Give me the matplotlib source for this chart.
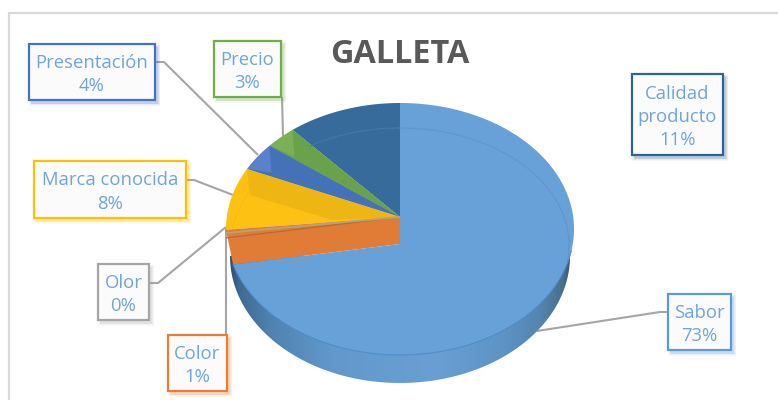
import numpy as np
import matplotlib
matplotlib.use('Agg')
import matplotlib.pyplot as plt
from matplotlib.patches import Polygon, Rectangle
from matplotlib.colors import LinearSegmentedColormap

plt.rcParams['font.family'] = ['Open Sans', 'DejaVu Sans']

# values, counterclockwise from 12 o'clock
names = ['Calidad\nproducto', 'Precio', 'Presentación', 'Marca conocida', 'Olor', 'Color', 'Sabor']
shares = [10.6, 2.9, 3.6, 8.0, 0.4, 1.0, 73.5]
labels = ['11%', '3%', '4%', '8%', '0%', '1%', '73%']

face_colors = ['#376b9b', '#7bb055', '#5b80cc', '#fdc113', '#b5a27a', '#e27d36', '#68a0d8']
inner_colors = ['#376b9b', '#69a24b', '#4472b8', '#edb612', '#b5a27a', '#e27d36', '#68a0d8']
edge_colors = ['#2f6395', '#70ad47', '#4472c4', '#ffc000', '#a5a5a5', '#ed7d31', '#5b9bd5']

# x0, y0, x1, y1 of each label box (pixels)
boxes = [(632, 74, 723, 155), (214, 41, 281, 97), (29, 44, 155, 100), (34, 161, 186, 218),
         (98, 264, 149, 320), (168, 335, 227, 391), (668, 294, 731, 350)]
leaders = [None,
           [(282, 97), (283, 136)],
           [(155, 62), (164, 62), (258, 155)],
           [(186, 180), (194, 180), (233, 195)],
           [(149, 283), (158, 283), (226, 227)],
           [(226, 335), (226, 228)],
           [(668, 312), (660, 312), (537, 331)]]

CX, CY, RX, RY = 400, 229, 174, 126
APEX = (400, 217)
SABOR_APEX = (400, 244)
BEVEL = (2, 27)


def rim(ccw_deg, cy=CY, rx=RX, ry=RY):
    t = np.radians(ccw_deg)
    return np.column_stack([CX - rx * np.sin(t), cy - ry * np.cos(t)])


def arc(a0, a1, **kw):
    return rim(np.linspace(a0, a1, max(int(abs(a1 - a0)), 2) + 1), **kw)


fig = plt.figure(figsize=(7.78, 4), dpi=100)
ax = fig.add_axes([0, 0, 1, 1])

# chart frame
ax.plot([9, 9, 778], [400, 13, 13], color='#d9d9d9', lw=1.6, solid_joinstyle='miter')

ax.text(400, 54.5, 'GALLETA', ha='center', va='center', fontsize=23.3,
        fontweight='bold', color='#595959')

angles = np.cumsum([0] + shares) * 3.6
wall_end = angles[6] + 11

# side wall of the big slice, lower ellipse is a bit narrower so it tapers out at the right
wall = Polygon(rim(-np.linspace(90, 270, 200), cy=256, rx=170, ry=127), closed=True, fc='none', ec='none', zorder=2)
ax.add_patch(wall)
wall_cmap = LinearSegmentedColormap.from_list(
    'wall', [(0, '#2b4a66'), (0.03, '#3f6a92'), (0.12, '#4f82b0'), (0.3, '#6298cc'), (0.6, '#699fd2'),
             (0.8, '#5d93c5'), (0.9, '#5585b0'), (0.97, '#47708f'), (1, '#2f4c66')])
grad = ax.imshow(np.linspace(0, 1, 256)[None, :], extent=(228, 574, 400, 220), cmap=wall_cmap,
                 aspect='auto', zorder=2, interpolation='bilinear')
grad.set_clip_path(wall)
ax.set_xlim(0, 778)
ax.set_ylim(400, 0)
ax.axis('off')

# small slices
for i in range(4):
    a0, a1 = angles[i], angles[i + 1]
    ax.add_patch(Polygon(np.vstack([[APEX], arc(a0, a1)]), closed=True, fc=face_colors[i], ec='none', zorder=3))
    first = rim(a0)[0]
    if i in (1, 2):
        ax.add_patch(Polygon([APEX, first, first + BEVEL], closed=True, fc=inner_colors[i], ec='none', zorder=4))
        ax.add_patch(Polygon([APEX, first + BEVEL, rim(a1)[0]], closed=True, fc=inner_colors[i], ec='none', zorder=4))
    if i == 3:
        ax.add_patch(Polygon([APEX, first, first + (3, 26), (332, 220)], closed=True,
                             fc=inner_colors[i], ec='none', zorder=4))

# faint bevel lines
ax.plot(*arc(0, 32, cy=245, rx=169, ry=117).T, color='#4578a6', lw=0.8, zorder=5)
ax.plot(*arc(62, 84, cy=245, rx=169, ry=117).T, color='#f4bd14', lw=0.8, zorder=5)

# cut face below the thin slices
cut = [APEX, rim(angles[4])[0], rim(wall_end)[0], SABOR_APEX]
ax.add_patch(Polygon(cut, closed=True, fc='#e17c37', ec='none', zorder=5))
ax.plot([APEX[0], rim(angles[6])[0][0]], [APEX[1], rim(angles[6])[0][1] - 3], color='#b9683a', lw=0.9, zorder=6)
ax.plot([APEX[0], rim(angles[5])[0][0]], [APEX[1], rim(angles[5])[0][1]], color='#b5a27a', lw=1.4, zorder=6)

# big slice top
ax.add_patch(Polygon(np.vstack([[SABOR_APEX], rim(-np.linspace(0, 360 - wall_end, 360))]), closed=True,
                     fc=face_colors[6], ec='none', zorder=6))
ax.plot(*rim(-np.linspace(0, 98, 100), cy=245, rx=169, ry=117).T, color='#5f97cd', lw=0.8, zorder=7)
ax.plot(*rim(-np.linspace(100, 360 - wall_end, 200)).T, color='#4f8cc8', lw=0.7, zorder=7)

# leader lines
for pts in leaders:
    if pts:
        ax.plot(*zip(*pts), color='#a5a5a5', lw=1.5, zorder=1.5, solid_capstyle='butt')

# label boxes
for name, lab, (x0, y0, x1, y1), ec in zip(names, labels, boxes, edge_colors):
    for grow, alpha in zip([5, 3.5, 2, 1], [0.05, 0.07, 0.1, 0.14]):
        ax.add_patch(Rectangle((x0 + 3 - grow / 2, y0 + 3 - grow / 2), x1 - x0 + grow, y1 - y0 + grow,
                               fc=ec, ec='none', alpha=alpha, zorder=9))
    ax.add_patch(Rectangle((x0, y0), x1 - x0, y1 - y0, fc='#fbfbfc', ec=ec, lw=1.6, zorder=10))
    ax.text((x0 + x1) / 2, (y0 + y1) / 2 + 2.5, name + '\n' + lab, ha='center', va='center', fontsize=13.3,
            color='#6ea5dc', linespacing=1.38, zorder=11)

fig.savefig('out.png', dpi=100)
